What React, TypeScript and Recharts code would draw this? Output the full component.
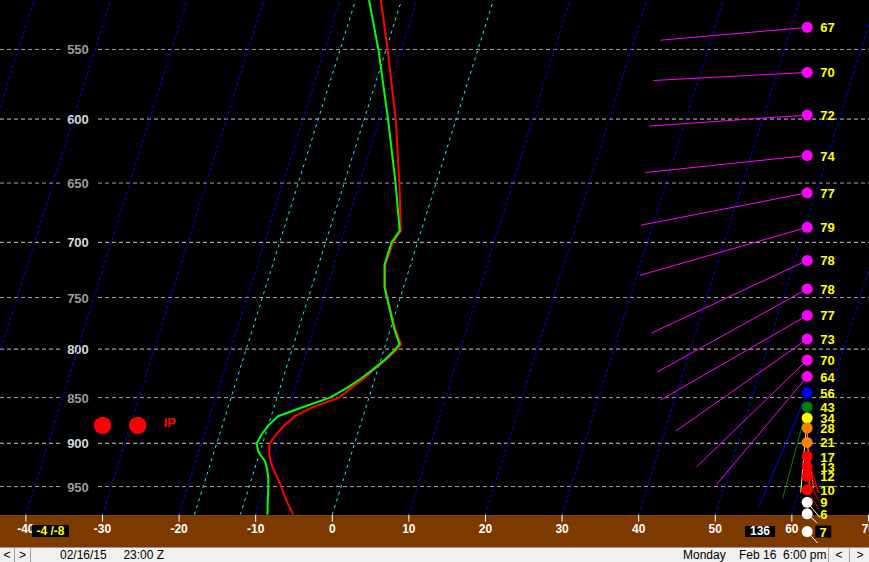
import { ComposedChart, Line, Scatter, XAxis, YAxis, ReferenceLine } from 'recharts';

const FONT = '"Liberation Sans", Arial, sans-serif';
const BROWN = '#7d3a00';

// skew-T projection: x is temperature shifted by log-pressure
const P_BASE = 984;
const SKEW = 32.7;
const skewX = (t: number, p: number) => t + SKEW * Math.log(P_BASE / p);

const P_TOP = 517.1;
const P_BOTTOM = 1025.9;
const X_MIN = -43.38;
const X_MAX = 70.07;

const tempTicks = [-40, -30, -20, -10, 0, 10, 20, 30, 40, 50, 60, 70];
const pressureGrid = [550, 600, 650, 700, 750, 800, 850, 900, 950];

// sounding levels (hPa), temperature and dewpoint (C)
const levels = [517, 550, 600, 650, 690, 700, 720, 740, 760, 780, 795, 800, 810, 820, 830, 840, 850, 860, 870, 880, 890, 900, 910, 920, 930, 940, 950, 960, 970, 984];
const temps = [-14.7, -11.8, -7.9, -4.8, -2.65, -3.2, -3.3, -2.45, -0.9, 0.6, 2.0, 1.7, 0.8, -0.4, -1.4, -2.75, -3.9, -6.9, -8.9, -9.9, -10.6, -11.1, -10.8, -10.3, -9.5, -8.65, -7.8, -7.1, -6.3, -5.1];
const dewpoints = [-16.25, -13.0, -8.9, -5.3, -2.8, -3.4, -3.4, -2.5, -1.0, 0.5, 1.8, 1.5, 0.6, -0.55, -1.8, -3.3, -5.1, -8.2, -11.1, -12.0, -12.5, -12.8, -12.2, -11.0, -10.35, -9.85, -9.5, -9.2, -8.9, -8.45];

const isotherms = [-60, -50, -40, -30, -20, -10, 10, 20, 30, 40, 50, 60, 70];
const dgzIsotherms = [-18, -12, 0];

// winds: pressure, speed (kt), direction (deg)
const windP = [535, 566, 597, 628, 658, 687, 716, 742, 767, 790, 811, 828, 845, 860, 872, 883, 899, 915, 927, 938, 954, 969, 983, 1005];
const windSpd = [67, 70, 72, 74, 77, 79, 78, 78, 77, 73, 70, 64, 56, 43, 34, 28, 21, 17, 13, 12, 10, 9, 6, 7];
const windDir = [265, 267, 266, 264, 259, 254, 245, 241, 240, 235, 226, 220, 203, 195, 185, 178, 172, 162, 156, 155, 149, 140, 133, 138];
const WIND_COL = 62;

const precipX = [-30, -25.4];
const precipP = 880;
const precipType = 'IP';

const surfaceT = -4;
const surfaceTd = -8;
const stationBox = '136';

const profile = (vals: number[]) => levels.map((p, i) => ({ x: skewX(vals[i], p), p }));
const isoLine = (t: number) => [P_BASE, P_TOP].map(p => ({ x: skewX(t, p), p }));
const winds = windP.map((p, i) => ({ x: WIND_COL, p, spd: windSpd[i], dir: windDir[i], sfc: i === windP.length - 1 }));
const precip = precipX.map((x, i) => ({ x, p: precipP, last: i === precipX.length - 1 }));
const tickMarks = tempTicks.map(t => ({ x: t, p: P_BASE, label: t }));

const windColor = (s: number) => {
  if (s >= 60) return '#ff00ff';
  if (s >= 50) return '#0000ff';
  if (s >= 40) return '#008000';
  if (s >= 30) return '#ffff00';
  if (s >= 20) return '#ff8000';
  if (s >= 10) return '#ff0000';
  return '#ffffff';
};

function TempTick({ cx, cy, payload }: any) {
  return (
    <g>
      <line x1={cx} x2={cx} y1={cy} y2={cy + 7} stroke="#fff" />
      <text x={cx} y={cy + 18.5} textAnchor="middle" fill="#fff" fontFamily={FONT} fontWeight="bold" fontSize={12}>
        {payload.label}
      </text>
    </g>
  );
}

function PLabel({ viewBox, p }: any) {
  const y = viewBox.y;
  const major = p % 100 === 0;
  return (
    <g>
      <rect x={viewBox.x + 63} y={y - 7} width={33} height={14} fill="#000" />
      <text x={viewBox.x + 78} y={y + 5} textAnchor="middle" fill={major ? '#d8d8d8' : '#9a9a9a'} fontFamily={FONT} fontWeight="bold" fontSize={13}>
        {p}
      </text>
    </g>
  );
}

function WindLine({ cx, cy, payload }: any) {
  const len = payload.spd * 2.2;
  const r = (payload.dir * Math.PI) / 180;
  return <line x1={cx} y1={cy} x2={cx + len * Math.sin(r)} y2={cy - len * Math.cos(r)} stroke={windColor(payload.spd)} strokeWidth={1} />;
}

function WindDot({ cx, cy, payload }: any) {
  return (
    <g>
      <circle cx={cx} cy={cy} r={5.5} fill={windColor(payload.spd)} />
      {payload.sfc && <rect x={cx + 8} y={cy - 6} width={16} height={12} fill="#000" />}
      <text x={payload.sfc ? cx + 16 : cx + 13} y={cy + 5} textAnchor={payload.sfc ? 'middle' : 'start'} fill="#ffff00" fontFamily={FONT} fontWeight="bold" fontSize={13}>
        {payload.spd}
      </text>
    </g>
  );
}

function PrecipDot({ cx, cy, payload }: any) {
  return (
    <g>
      <circle cx={cx} cy={cy} r={8.7} fill="#ff0000" />
      {payload.last && (
        <text x={cx + 26} y={cy + 2} fill="#ff0000" fontFamily={FONT} fontWeight="bold" fontSize={13}>
          {precipType}
        </text>
      )}
    </g>
  );
}

export default function App() {
  return (
    <div style={{ position: 'fixed', left: 0, top: 0, width: 869, height: 562, background: '#000', overflow: 'hidden' }}>
      <div style={{ position: 'absolute', left: 0, top: 515, width: 869, height: 33, background: BROWN }} />
      <div style={{ position: 'absolute', left: 0, top: 0 }}>
        <ComposedChart width={869} height={548} margin={{ top: 0, right: 0, bottom: 0, left: 0 }}>
          <XAxis type="number" dataKey="x" domain={[X_MIN, X_MAX]} allowDataOverflow hide />
          <YAxis type="number" dataKey="p" scale="log" domain={[P_TOP, P_BOTTOM]} reversed hide />
          {pressureGrid.map(p => (
            <ReferenceLine key={p} y={p} stroke={p % 100 === 0 ? '#c8c8c8' : '#a0a0a0'} strokeDasharray="4 3" label={<PLabel p={p} />} />
          ))}
          {isotherms.map(t => (
            <Line key={'iso' + t} data={isoLine(t)} dataKey="p" stroke="#0000ff" strokeDasharray="3 3" dot={false} activeDot={false} isAnimationActive={false} />
          ))}
          {dgzIsotherms.map(t => (
            <Line key={'dgz' + t} data={isoLine(t)} dataKey="p" stroke="#00ffff" strokeDasharray="3 4" dot={false} activeDot={false} isAnimationActive={false} />
          ))}
          <Line data={profile(temps)} dataKey="p" stroke="#ff0000" strokeWidth={2} dot={false} activeDot={false} isAnimationActive={false} />
          <Line data={profile(dewpoints)} dataKey="p" stroke="#00ff00" strokeWidth={2} dot={false} activeDot={false} isAnimationActive={false} />
          <Scatter data={tickMarks} shape={<TempTick />} isAnimationActive={false} />
          <Scatter data={precip} shape={<PrecipDot />} isAnimationActive={false} />
          <Scatter data={winds} shape={<WindLine />} isAnimationActive={false} />
          <Scatter data={winds} shape={<WindDot />} isAnimationActive={false} />
        </ComposedChart>
      </div>
      <div style={{ position: 'absolute', left: 32, top: 525, width: 37, height: 12, background: '#000', color: '#ffff00', font: `bold 12px ${FONT}`, lineHeight: '12px', textAlign: 'center', whiteSpace: 'pre' }}>
        {`${surfaceT} /${surfaceTd}`}
      </div>
      <div style={{ position: 'absolute', left: 745, top: 526, width: 30, height: 11, background: '#000', color: '#fff', font: `bold 12px ${FONT}`, lineHeight: '11px', textAlign: 'center' }}>
        {stationBox}
      </div>
      <div style={{ position: 'absolute', left: 0, top: 547, width: 869, height: 15, background: '#f0f0f0', borderTop: '1px solid #9a9a9a', font: `12px ${FONT}`, color: '#000', boxSizing: 'border-box' }}>
        <span style={{ position: 'absolute', left: 0, top: 0, width: 14, height: 15, borderRight: '1px solid #a0a0a0', textAlign: 'center', lineHeight: '15px' }}>&lt;</span>
        <span style={{ position: 'absolute', left: 15, top: 0, width: 15, height: 15, borderRight: '1px solid #a0a0a0', textAlign: 'center', lineHeight: '15px' }}>&gt;</span>
        <span style={{ position: 'absolute', left: 60, top: 0, lineHeight: '15px', whiteSpace: 'pre' }}>02/16/15     23:00 Z</span>
        <span style={{ position: 'absolute', left: 683, top: 0, lineHeight: '15px', whiteSpace: 'pre' }}>Monday    Feb 16  6:00 pm</span>
        <span style={{ position: 'absolute', left: 828, top: 0, width: 20, height: 15, borderLeft: '1px solid #a0a0a0', textAlign: 'center', lineHeight: '15px' }}>&lt;</span>
        <span style={{ position: 'absolute', left: 849, top: 0, width: 20, height: 15, borderLeft: '1px solid #a0a0a0', textAlign: 'center', lineHeight: '15px' }}>&gt;</span>
      </div>
    </div>
  );
}
